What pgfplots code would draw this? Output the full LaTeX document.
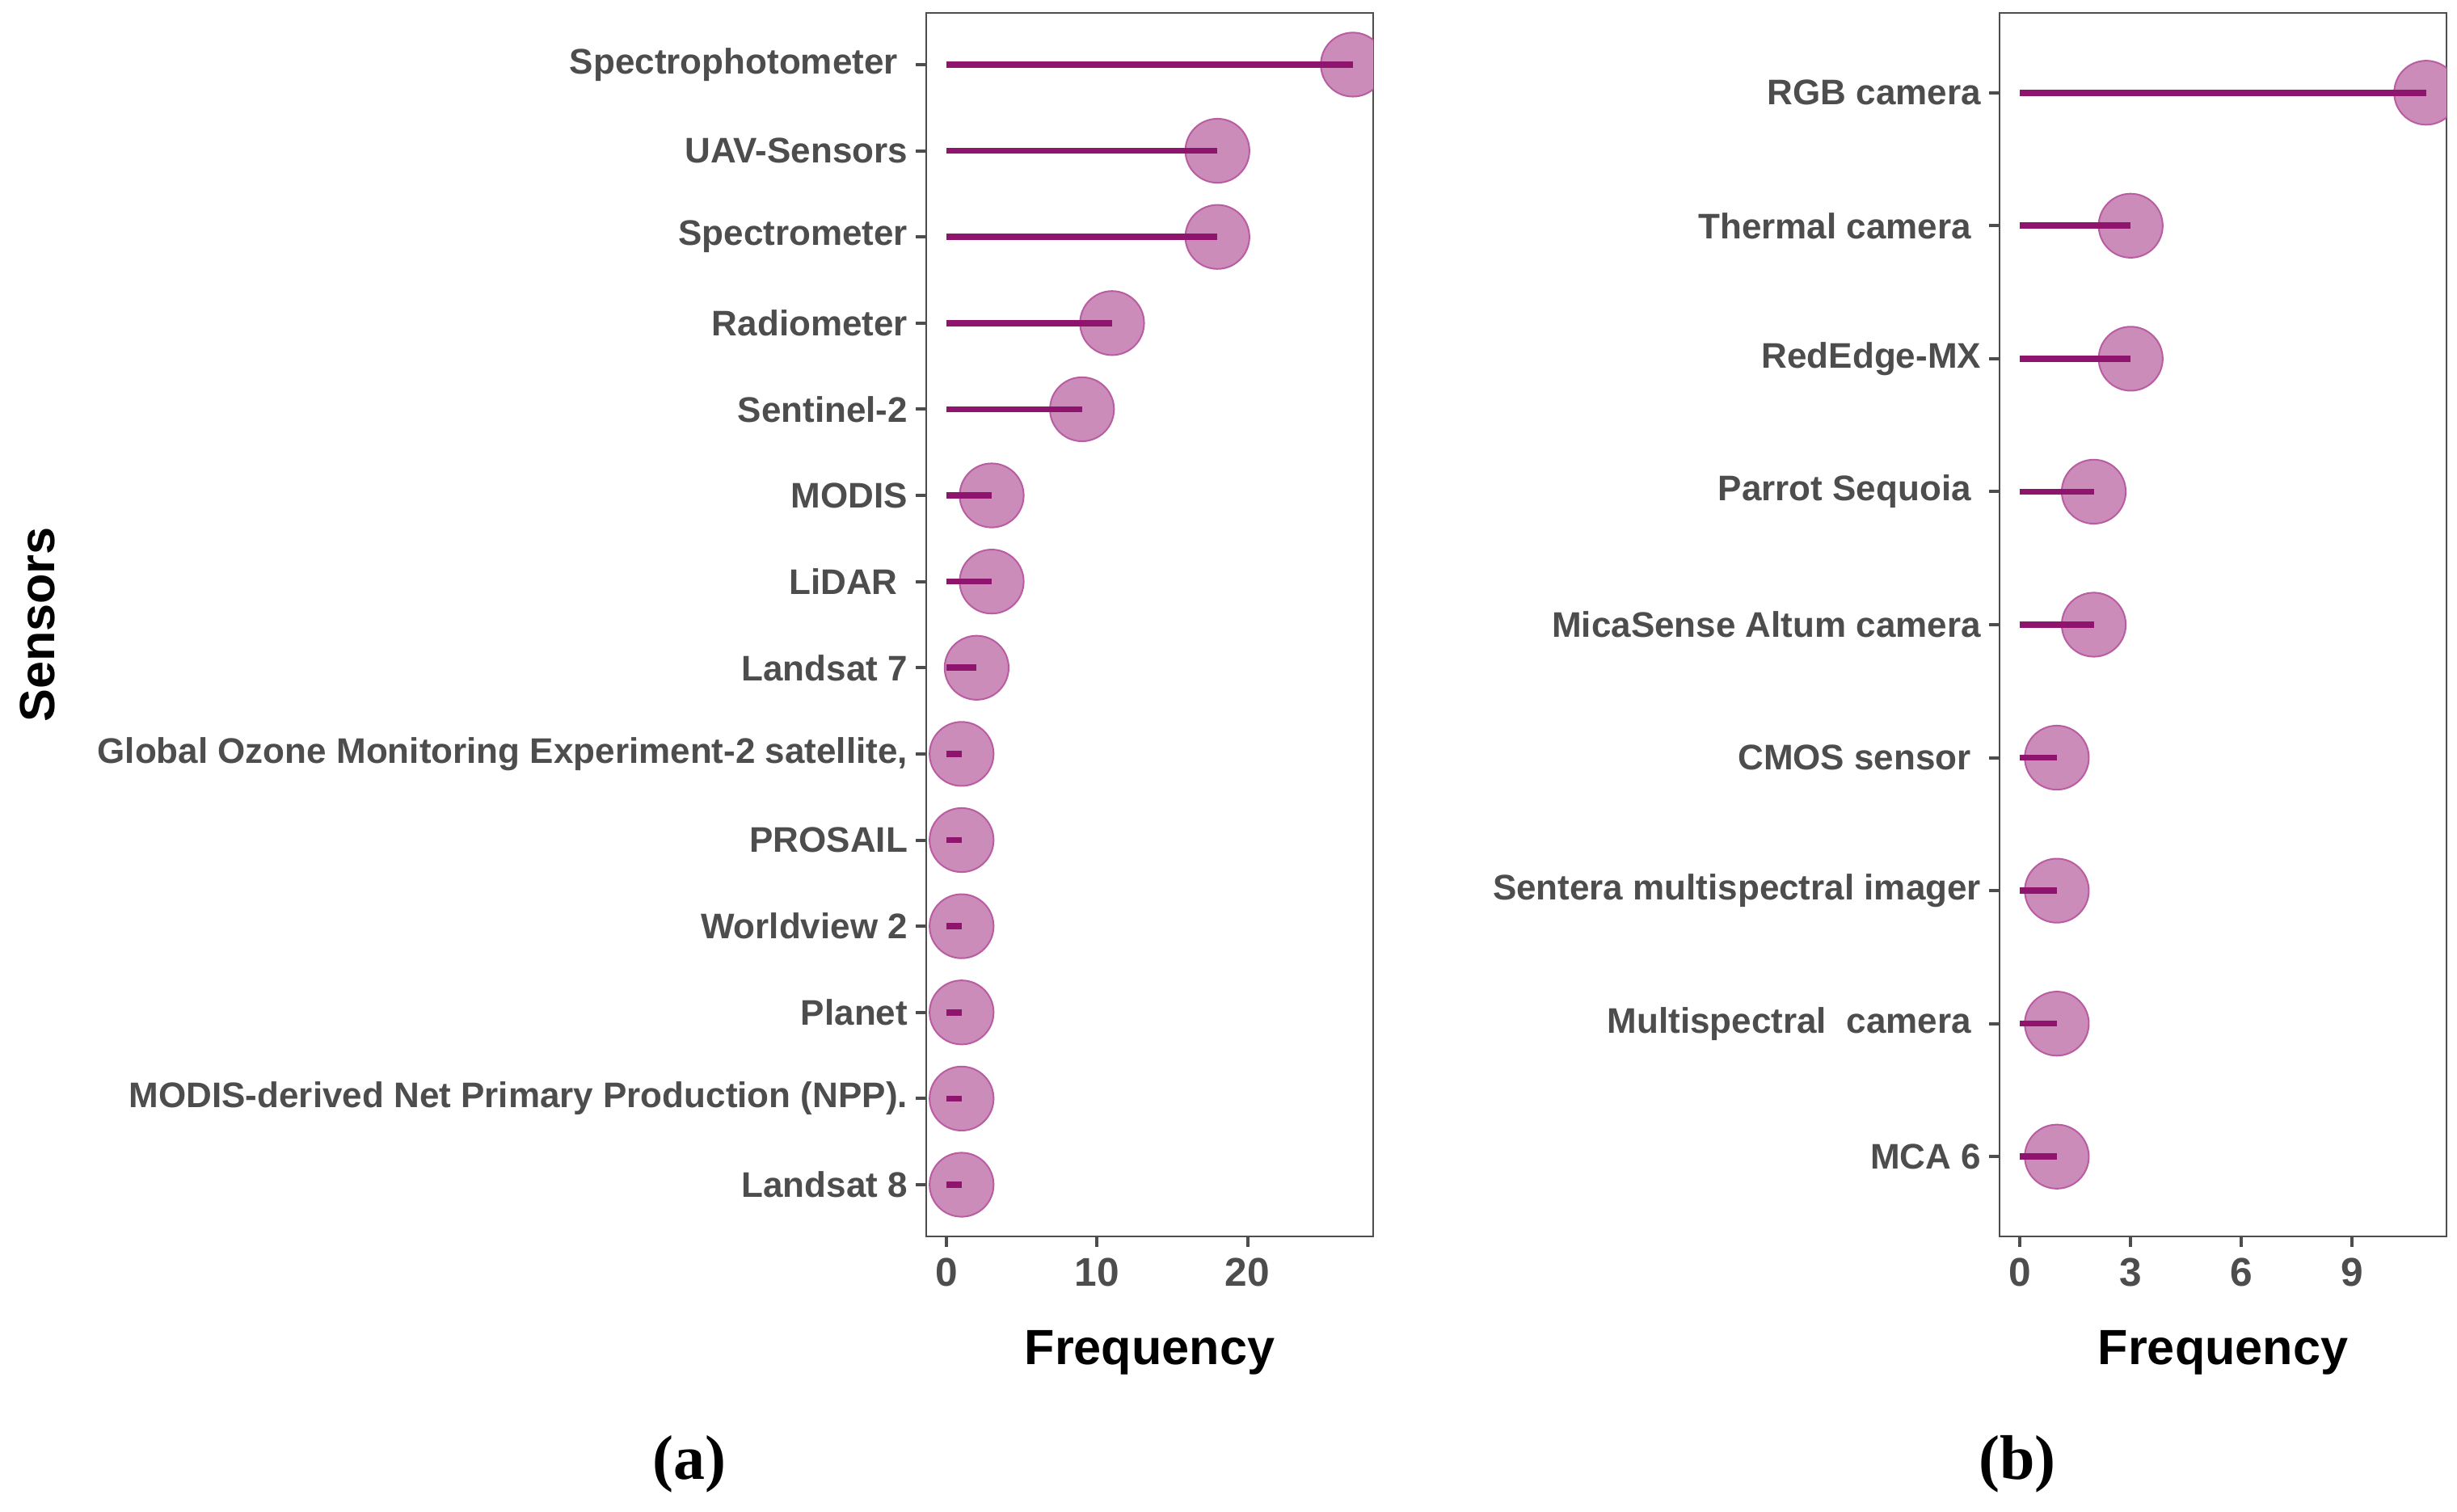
\documentclass[border=0pt]{standalone}
\usepackage{pgfplots}
\usepackage{pgfplotstable}
\pgfplotsset{compat=1.18}
\usepackage{fontspec}
\setmainfont{Liberation Sans}
\newfontfamily\capfont{Liberation Serif}

\definecolor{stem}{RGB}{142,20,110}
\definecolor{dotfill}{RGB}{204,140,185}
\definecolor{dotedge}{RGB}{186,92,162}
\definecolor{axgray}{RGB}{77,77,77}

% trailing blank kept in some labels
\newcommand{\tsp}{\kern0.278em}

% left panel: sensors (1 = bottom row)
\pgfplotstableread{
y v
14 27
13 18
12 18
11 11
10 9
9 3
8 3
7 2
6 1
5 1
4 1
3 1
2 1
1 1
}\dataA

% right panel: cameras
\pgfplotstableread{
y v
9 11
8 3
7 3
6 2
5 2
4 1
3 1
2 1
1 1
}\dataB

\pgfplotsset{
  lolli/.style={
    scale only axis,
    width=138.25pt,
    height=378.5pt,
    axis line style={draw=axgray, line width=0.7pt},
    tick align=outside,
    major tick length=3.25pt,
    tick style={draw=axgray, line width=1pt},
    xtick pos=lower,
    ytick pos=left,
    yticklabel style={font=\fontsize{11}{13}\selectfont\bfseries, text=axgray, inner xsep=2.3pt},
    xticklabel style={font=\fontsize{12.4}{14}\selectfont\bfseries, text=axgray},
    /pgf/number format/assume math mode=true,
    xlabel={Frequency},
    xlabel style={font=\fontsize{15.3}{18}\selectfont\bfseries, at={(axis description cs:0.5,0)}, anchor=center, yshift=-36pt},
    clip marker paths=true,
    ymin=0.4,
  },
  dot/.style={only marks, mark=*, mark size=9.9pt, mark options={fill=dotfill, draw=dotedge, line width=0.5pt}},
  stick/.style={xcomb, draw=stem, line width=1.9pt},
}

\begin{document}
\begin{tikzpicture}
\useasboundingbox (0,0) rectangle (760pt,467.75pt);

\begin{axis}[
    lolli,
    at={(286.5pt,85.25pt)}, anchor=south west,
    xmin=-1.35, xmax=28.35,
    xtick={0,10,20},
    ymax=14.6,
    ytick={1,...,14},
    yticklabels={Landsat 8, MODIS-derived Net Primary Production (NPP)., Planet, Worldview 2, PROSAIL, {Global Ozone Monitoring Experiment-2 satellite,}, Landsat 7, LiDAR\tsp, MODIS, Sentinel-2, Radiometer, Spectrometer, UAV-Sensors, Spectrophotometer\tsp},
  ]
  \addplot[dot] table[x=v, y=y] {\dataA};
  \addplot[stick] table[x=v, y=y] {\dataA};
\end{axis}

\begin{axis}[
    lolli,
    at={(618.5pt,85.25pt)}, anchor=south west,
    xmin=-0.55, xmax=11.55,
    xtick={0,3,6,9},
    ymax=9.6,
    ytick={1,...,9},
    yticklabels={MCA 6, Multispectral\ \ camera\tsp, Sentera multispectral imager, CMOS sensor\tsp, MicaSense Altum camera, Parrot Sequoia\tsp, RedEdge-MX, Thermal camera\tsp, RGB camera},
  ]
  \addplot[dot] table[x=v, y=y] {\dataB};
  \addplot[stick] table[x=v, y=y] {\dataB};
\end{axis}

\node[rotate=90, font=\fontsize{15.3}{18}\selectfont\bfseries] at (11.5pt,274.5pt) {Sensors};
\node[font=\fontsize{19.5}{22}\selectfont\capfont\bfseries] at (213.25pt,14.75pt) {(a)};
\node[font=\fontsize{19.5}{22}\selectfont\capfont\bfseries] at (624pt,14.75pt) {(b)};
\end{tikzpicture}
\end{document}
